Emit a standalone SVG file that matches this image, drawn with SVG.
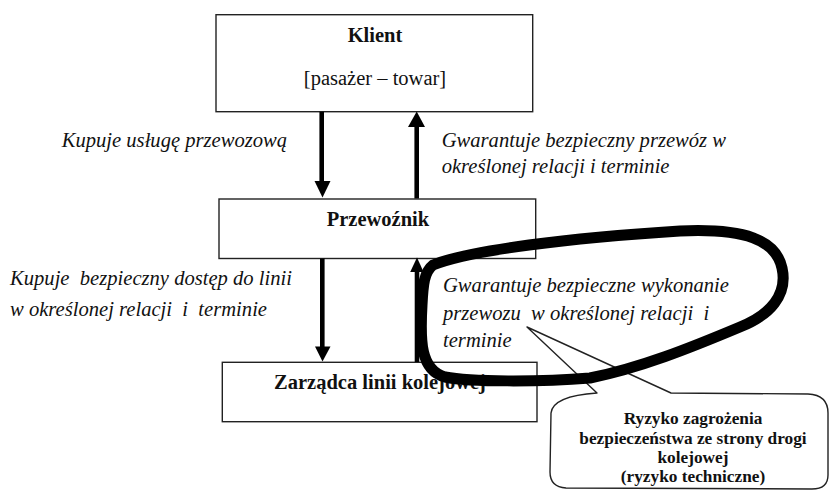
<svg xmlns="http://www.w3.org/2000/svg" width="832" height="495" viewBox="0 0 832 495">
<style>
.box{fill:#fff;stroke:#222;stroke-width:1.4}
.bold{font-family:"Liberation Serif","Times New Roman",serif;font-weight:bold;fill:#111}
.reg{font-family:"Liberation Serif","Times New Roman",serif;fill:#111}
.it{font-family:"Liberation Serif","Times New Roman",serif;font-style:italic;font-size:20.6px;fill:#111}
.shaft{stroke:#000;stroke-width:4.6;fill:none}
.head{fill:#000}
</style>
<rect width="832" height="495" fill="#fff"/>
<g id="klient">
<rect class="box" x="216" y="14.7" width="316.7" height="97"/>
<text class="bold" x="375" y="42" font-size="20.5" text-anchor="middle">Klient</text>
<text class="reg" x="375" y="85" font-size="20.5" text-anchor="middle">[pasażer – towar]</text>
</g>
<g id="przewoznik">
<rect class="box" x="219" y="199" width="316.7" height="59.5"/>
<text class="bold" x="378" y="226" font-size="20.5" text-anchor="middle">Przewoźnik</text>
</g>
<g id="zarzadca">
<rect class="box" x="222.3" y="362.3" width="314.7" height="59.4"/>
<text class="bold" x="380" y="389" font-size="20.5" text-anchor="middle">Zarządca linii kolejowej</text>
</g>
<g id="connectors">
<line class="shaft" x1="321.7" y1="111.7" x2="321.7" y2="183"/>
<polygon class="head" points="314.5,181 330.5,181 322.5,197.5"/>
<line class="shaft" x1="416.7" y1="198.5" x2="416.7" y2="124"/>
<polygon class="head" points="408,127 425,127 416.7,111.5"/>
<line class="shaft" x1="322.3" y1="258.5" x2="322.3" y2="348"/>
<polygon class="head" points="315,346.5 330.5,346.5 322.5,361.5"/>
<line class="shaft" x1="417" y1="362" x2="417" y2="270"/>
<polygon class="head" points="410.2,272 423.6,272 417,257.5"/>
</g>
<g id="labels">
<text class="it" x="61.7" y="146.7">Kupuje usługę przewozową</text>
<text class="it" x="441.7" y="146.7">Gwarantuje bezpieczny przewóz w</text>
<text class="it" x="441.7" y="173.3">określonej relacji  i  terminie</text>
<text class="it" x="10" y="285" xml:space="preserve">Kupuje  bezpieczny dostęp do linii</text>
<text class="it" x="10" y="315.5" xml:space="preserve">w określonej relacji  i  terminie</text>
</g>
<g id="callout">
<path d="M 597,393 L 527,327 L 671,393 L 808,394 Q 828,395 828,413 L 828,475 Q 828,489 812,489 L 566,488 Q 550,487 550,472 L 551,413 Q 553,396 597,393 Z" fill="#fff" stroke="#222" stroke-width="1.4" stroke-linejoin="round"/>
<text class="bold" x="693" y="423.5" font-size="17.3" text-anchor="middle">Ryzyko zagrożenia</text>
<text class="bold" x="693" y="443.5" font-size="17.3" text-anchor="middle">bezpieczeństwa ze strony drogi</text>
<text class="bold" x="693" y="463" font-size="17.3" text-anchor="middle">kolejowej</text>
<text class="bold" x="693" y="482" font-size="17.3" text-anchor="middle">(ryzyko techniczne)</text>
</g>
<g id="loop">
<path d="M 433,265 C 470,250 570,238 680,231 C 745,228 776,240 782,268 C 788,295 770,315 740,327 C 690,348 640,368 590,378 C 540,382 470,382 445,377 C 420,370 420,340 422,305 C 423,285 424,272 433,265 Z" fill="none" stroke="#000" stroke-width="11" stroke-linejoin="round"/>
<text class="it" x="443" y="291.7">Gwarantuje bezpieczne wykonanie</text>
<text class="it" x="443" y="320" xml:space="preserve">przewozu  w określonej relacji  i</text>
<text class="it" x="443" y="346.7">terminie</text>
</g>
</svg>
